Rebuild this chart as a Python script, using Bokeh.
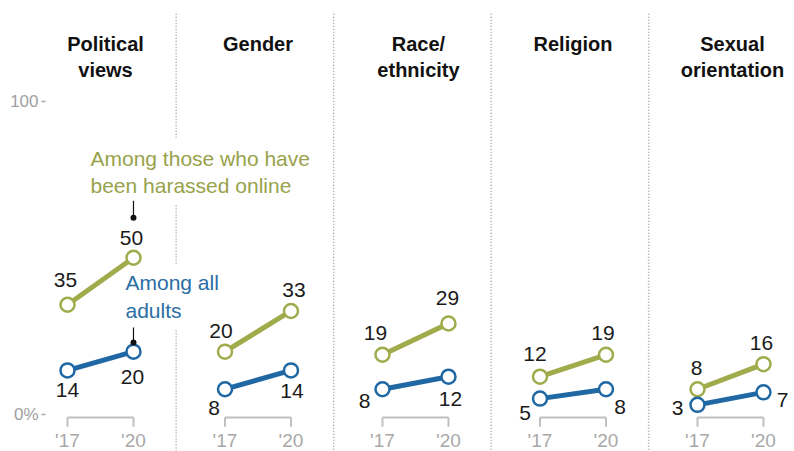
from bokeh.plotting import figure
from bokeh.models import ColumnDataSource, FixedTicker
from bokeh.core.properties import value
from bokeh.embed import file_html
from bokeh.resources import INLINE

# ---- data ----
categories = ["Political views", "Gender", "Race/ethnicity", "Religion", "Sexual orientation"]
title_lines = [["Political", "views"], ["Gender"], ["Race/", "ethnicity"], ["Religion"], ["Sexual", "orientation"]]
years = ["'17", "'20"]
harassed_17 = [35, 20, 19, 12, 8]
harassed_20 = [50, 33, 29, 19, 16]
all_17 = [14, 8, 8, 5, 3]
all_20 = [20, 14, 12, 8, 7]

# ---- label offsets (pixels) ----
green_off_17 = [(-2, -25), (-4, -21), (-7, -22), (-5, -23), (-1, -21)]
green_off_20 = [(-2, -20), (3, -21), (-1, -25), (-3, -22), (-2, -21)]
blue_off_17 = [(0, 20), (-11, 19), (-18, 12), (-15, 14), (-20, 3)]
blue_off_20 = [(-1, 25), (1, 21), (2, 22), (14, 18), (19, 8)]
title_dx = [5, 0, 3, 0, 2]

GREEN = "#a0ab4b"
GREEN_TXT = "#98a24a"
BLUE = "#1f68a3"
BLUE_TXT = "#2a6ea3"
GRAY = "#a8a8a8"
FONT = "Liberation Sans"

n = len(categories)
GAP = 0.419
x17 = [float(i) for i in range(n)]
x20 = [i + GAP for i in range(n)]
YB = -11.9

p = figure(width=794, height=451, x_range=(-0.1397, 4.616), y_range=(YB, 132.2),
           output_backend="svg", toolbar_location=None, x_axis_location=None,
           min_border_left=45, min_border_right=0, min_border_top=0, min_border_bottom=0)
p.outline_line_color = None
p.grid.grid_line_color = None
p.background_fill_color = "white"

ax = p.yaxis[0]
ax.ticker = FixedTicker(ticks=[0, 100])
ax.major_label_overrides = {0: "0%", 100: "100"}
ax.axis_line_color = None
ax.minor_tick_line_color = None
ax.major_tick_in = 0
ax.major_tick_out = 4
ax.major_tick_line_color = GRAY
ax.major_tick_line_width = 1.5
ax.major_label_text_color = "#a0a0a0"
ax.major_label_text_font = FONT
ax.major_label_text_font_size = "17px"
ax.major_label_standoff = 3

# separators (dotted)
sep_x = [i + 0.69 for i in range(n - 1)]
sx0, sy0, sx1, sy1 = [], [], [], []
for k, xs in enumerate(sep_x):
    pieces = [(128, 88.4), (66.7, 47.5), (26.8, YB)] if k == 0 else [(128, YB)]
    for a, b in pieces:
        sx0.append(xs); sx1.append(xs); sy0.append(a); sy1.append(b)
p.segment(x0=sx0, y0=sy0, x1=sx1, y1=sy1, line_color="#a0a0a0", line_width=1.5, line_dash="1 2")

# titles
tx, ty, tt, tdx = [], [], [], []
line_y = [118.4, 110.1]
for i, lines in enumerate(title_lines):
    for j, t in enumerate(lines):
        tx.append(i + GAP / 2); ty.append(line_y[j]); tt.append(t); tdx.append(title_dx[i])
p.text(x=tx, y=ty, text=tt, x_offset=tdx, text_align="center", text_baseline="middle",
       text_font=value(FONT), text_font_style="bold", text_font_size="20px", text_color="#111111")

# x brackets and year labels
p.segment(x0=x17, y0=[-1.0] * n, x1=x20, y1=[-1.0] * n, line_color="#c0c0c0", line_width=2)
p.segment(x0=x17 + x20, y0=[-1.0] * (2 * n), x1=x17 + x20, y1=[-4.0] * (2 * n),
          line_color="#c0c0c0", line_width=2)
p.text(x=x17 + x20, y=[-11.7] * (2 * n), text=[years[0]] * n + [years[1]] * n,
       text_align="center", text_baseline="bottom", text_font=value(FONT),
       text_font_size="19px", text_color="#a8a8a8")

# lines
p.segment(x0=x17, y0=harassed_17, x1=x20, y1=harassed_20, line_color=GREEN, line_width=5)
p.segment(x0=x17, y0=all_17, x1=x20, y1=all_20, line_color=BLUE, line_width=5)

# points
p.scatter(x=x17 + x20, y=harassed_17 + harassed_20, size=14, fill_color="white",
          line_color=GREEN, line_width=2.5)
p.scatter(x=x17 + x20, y=all_17 + all_20, size=14, fill_color="white",
          line_color=BLUE, line_width=2.5)

# value labels
def labels(xs, vals, offs):
    src = ColumnDataSource(dict(x=xs, y=vals, t=[str(v) for v in vals],
                                dx=[o[0] for o in offs], dy=[o[1] for o in offs]))
    p.text(x="x", y="y", text="t", x_offset="dx", y_offset="dy", source=src,
           text_align="center", text_baseline="middle", text_font=value(FONT),
           text_font_size="21px", text_color="#1a1a1a")

labels(x17, harassed_17, green_off_17)
labels(x20, harassed_20, green_off_20)
labels(x17, all_17, blue_off_17)
labels(x20, all_20, blue_off_20)

# annotations with leader lines
p.text(x=[0.146, 0.146], y=[81.7, 73.0], text=["Among those who have", "been harassed online"],
       text_align="left", text_baseline="middle", text_font=value(FONT),
       text_font_size="21px", text_color=GREEN_TXT)
p.text(x=[0.368, 0.368], y=[42.1, 33.2], text=["Among all", "adults"],
       text_align="left", text_baseline="middle", text_font=value(FONT),
       text_font_size="21px", text_color=BLUE_TXT)
p.segment(x0=[x20[0], x20[0]], y0=[68.2, 27.7], x1=[x20[0], x20[0]], y1=[62.8, 22.9],
          line_color="#111111", line_width=1.2)
p.scatter(x=[x20[0], x20[0]], y=[62.8, 22.9], size=6, fill_color="#111111", line_color=None)

open("out.html", "w").write(file_html(p, INLINE))
